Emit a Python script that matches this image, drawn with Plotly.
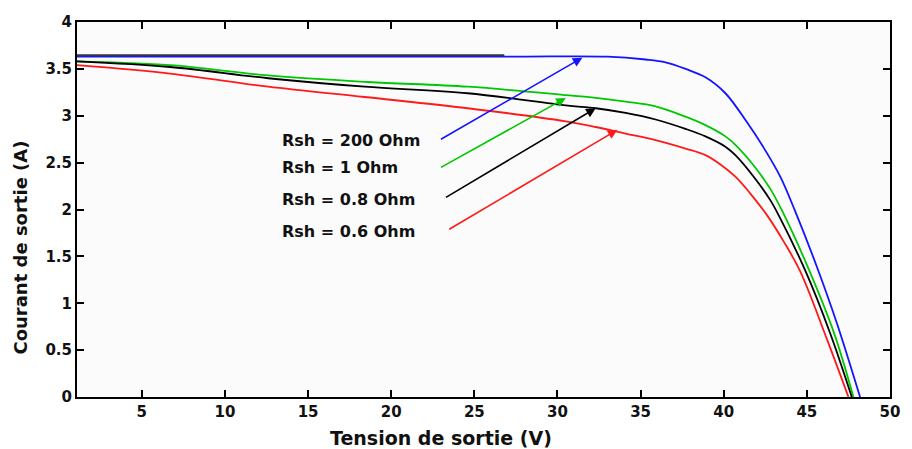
import plotly.graph_objects as go

# Tension (V) / Courant (A) for each shunt resistance
v_rsh200 = [1.1, 26.8, 33.0, 35.3, 36.5, 37.7, 38.9, 40.1, 41.4, 42.4, 43.4, 44.3, 45.6, 46.8, 48.2]
i_rsh200 = [3.63, 3.63, 3.63, 3.60, 3.57, 3.50, 3.41, 3.24, 2.93, 2.66, 2.35, 1.98, 1.39, 0.79, 0.0]

v_rsh1 = [1.1, 6.7, 12.6, 18.6, 24.6, 30.5, 32.3, 34.1, 35.9, 37.7, 38.9, 40.1, 40.7, 41.8, 42.8, 43.5, 45.0, 46.6, 47.8]
i_rsh1 = [3.58, 3.54, 3.43, 3.36, 3.31, 3.22, 3.19, 3.15, 3.10, 2.99, 2.90, 2.78, 2.69, 2.47, 2.22, 1.99, 1.41, 0.70, 0.0]

v_rsh08 = [1.1, 6.7, 12.6, 18.4, 24.6, 30.5, 32.3, 34.1, 35.9, 37.7, 38.9, 40.1, 40.7, 41.8, 42.8, 43.3, 44.9, 46.4, 47.7]
i_rsh08 = [3.58, 3.52, 3.40, 3.31, 3.24, 3.11, 3.08, 3.03, 2.96, 2.86, 2.78, 2.67, 2.58, 2.35, 2.10, 1.94, 1.35, 0.68, 0.0]

v_rsh06 = [1.1, 6.7, 12.6, 18.4, 24.6, 30.5, 32.3, 34.1, 35.9, 37.7, 38.9, 39.8, 40.7, 41.6, 42.6, 43.6, 44.6, 46.2, 47.5]
i_rsh06 = [3.54, 3.45, 3.31, 3.20, 3.08, 2.94, 2.88, 2.81, 2.74, 2.65, 2.58, 2.48, 2.35, 2.17, 1.94, 1.66, 1.34, 0.62, 0.0]

# dark segment drawn over the start of the top curve
v_overlay = [1.1, 26.8]
i_overlay = [3.645, 3.645]

labels = ["Rsh = 200 Ohm", "Rsh = 1 Ohm", "Rsh = 0.8 Ohm", "Rsh = 0.6 Ohm"]
label_x = [13.3, 13.3, 13.3, 13.3]
label_y = [2.74, 2.45, 2.11, 1.77]
arrow_tail_x = [22.9, 22.9, 23.2, 23.4]
arrow_tail_y = [2.74, 2.44, 2.12, 1.78]
arrow_head_x = [31.5, 30.5, 32.3, 33.6]
arrow_head_y = [3.62, 3.19, 3.08, 2.85]
colors = ["#1414ff", "#00c800", "#000000", "#ff1a1a"]

x_ticks = [5, 10, 15, 20, 25, 30, 35, 40, 45, 50]
y_ticks = [0, 0.5, 1, 1.5, 2, 2.5, 3, 3.5, 4]
y_ticklabels = ["0", "0.5", "1", "1.5", "2", "2.5", "3", "3.5", "4"]

FONT = "DejaVu Sans, Verdana, sans-serif"
L, R, T, B = 77, 14, 22, 52
W, H = 912, 449
pw, ph = W - L - R, H - T - B

fig = go.Figure()
series = [(v_rsh200, i_rsh200), (v_rsh1, i_rsh1), (v_rsh08, i_rsh08), (v_rsh06, i_rsh06)]
for (vx, iy), c, name in zip(series, colors, labels):
    fig.add_trace(go.Scatter(x=vx, y=iy, mode="lines", name=name,
                             line=dict(color=c, width=1.8, shape="spline", smoothing=1.0)))
fig.add_trace(go.Scatter(x=v_overlay, y=i_overlay, mode="lines", line=dict(color="#333344", width=2),
                         showlegend=False))

for lx, ly, txt in zip(label_x, label_y, labels):
    fig.add_annotation(x=lx, y=ly, text=txt, showarrow=False, xanchor="left", yanchor="middle",
                       font=dict(family=FONT, size=16, color="#111111", weight="bold"))

for tx, ty, hx, hy, c in zip(arrow_tail_x, arrow_tail_y, arrow_head_x, arrow_head_y, colors):
    fig.add_annotation(x=hx, y=hy, ax=tx, ay=ty, xref="x", yref="y", axref="x", ayref="y",
                       showarrow=True, arrowhead=2, arrowsize=1.2, arrowwidth=1.6, arrowcolor=c, text="")

fig.add_annotation(x=(445 - L) / pw, y=-(438 - (H - B)) / ph, xref="paper", yref="paper",
                   text="Tension de sortie (V)", showarrow=False, xanchor="center", yanchor="middle",
                   font=dict(family=FONT, size=19, color="#111111", weight="bold"))
fig.add_annotation(x=-(L - 19) / pw, y=(H - B - 248) / ph, xref="paper", yref="paper",
                   text="Courant de sortie (A)", showarrow=False, textangle=-90,
                   xanchor="center", yanchor="middle",
                   font=dict(family=FONT, size=18, color="#111111", weight="bold"))

fig.update_layout(
    width=W, height=H,
    margin=dict(l=L, r=R, t=T, b=B),
    paper_bgcolor="white", plot_bgcolor="#fbfbfb",
    showlegend=False,
    font=dict(family=FONT, size=15, color="#111111"),
)
fig.update_xaxes(range=[1.1, 50], tickvals=x_ticks, ticks="inside", ticklen=7, tickwidth=2, tickcolor="black",
                 showline=True, linecolor="black", linewidth=2, mirror="ticks", showgrid=False, zeroline=False,
                 tickfont=dict(family=FONT, size=15, weight="bold"))
fig.update_yaxes(range=[0, 4], tickvals=y_ticks, ticktext=y_ticklabels, ticks="inside", ticklen=7, tickwidth=2,
                 tickcolor="black", showline=True, linecolor="black", linewidth=2, mirror="ticks",
                 showgrid=False, zeroline=False, tickfont=dict(family=FONT, size=15, weight="bold"))

fig.write_html("out.html", config={"displayModeBar": False},
               post_script="document.body.style.margin='0';document.body.style.padding='0';")
